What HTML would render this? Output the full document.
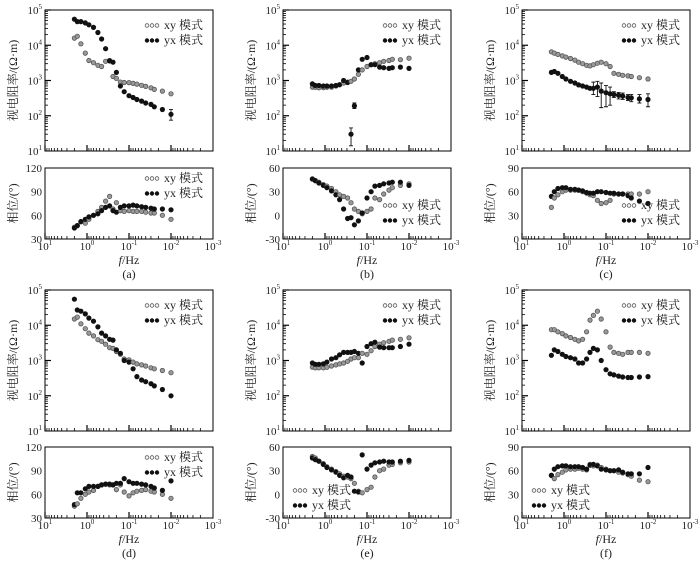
<!DOCTYPE html>
<html><head><meta charset="utf-8">
<style>
html,body{margin:0;padding:0;background:#fff;}
svg{display:block;font-family:"Liberation Serif","Noto Serif CJK SC",serif;}
</style></head>
<body>
<svg id="fig" width="700" height="561" viewBox="0 0 700 561" xmlns="http://www.w3.org/2000/svg"></svg>
<script>
const freqs=[2,1.7,1.4,1.1,0.9,0.7,0.55,0.45,0.36,0.29,0.24,0.2,0.16,0.13,0.1,0.08,0.065,0.05,0.04,0.03,0.025,0.016,0.01];
const aRhoXY=[1.6e4,1.8e4,1.1e4,6e3,3.7e3,3.2e3,2.7e3,2.5e3,3.5e3,3.7e3,1.3e3,1.15e3,900,880,870,830,790,730,680,620,560,500,420];
const aRhoYX=[5.5e4,4.7e4,4.7e4,4.3e4,3.8e4,3.2e4,2.3e4,1.5e4,8e3,3.6e3,3.3e3,1.7e3,700,480,370,330,290,260,230,210,180,150,110];
const aPhXY=[45,47,52,50,55,60,65,70,78,84,68,76,66,65,66,65,65,65,64,63,63,60,55];
const aPhYX=[44,47,52,55,58,60,62,66,70,72,66,64,70,72,72,73,72,71,70,69,68,68,67];
const bRhoXY=[650,640,620,630,640,650,700,760,850,900,950,1100,1500,2000,2500,2800,3000,3200,3500,3700,4000,3900,4300];
const bRhoYX=[800,720,720,700,700,700,720,760,1000,880,30,190,2000,4000,4500,2800,2800,2400,2300,2200,2300,2400,2200];
const bPhXY=[46,44,42,39,37,34,30,26,24,22,16,8,5,2,5,8,22,20,27,32,35,38,40];
const bPhYX=[46,44,41,38,35,31,26,20,8,-4,-3,-12,-7,3,22,30,37,38,40,41,42,42,38];
const cRhoXY=[6.5e3,6e3,5.5e3,5e3,4.6e3,4.2e3,3.8e3,3.3e3,3e3,2.7e3,2.6e3,2.8e3,3.1e3,3.3e3,3e3,2.5e3,1.6e3,1.5e3,1.4e3,1.35e3,1.3e3,1.2e3,1.1e3];
const cRhoYX=[1.7e3,1.8e3,1.6e3,1.3e3,1.1e3,950,850,750,700,650,600,600,650,500,450,420,400,380,360,330,320,300,290];
const cPhXY=[40,52,56,60,62,62,62,62,60,58,56,55,49,45,46,49,57,57,57,57,57,57,60];
const cPhYX=[54,60,64,65,65,63,63,62,61,59,58,58,60,60,59,58,58,57,57,55,52,48,45];
const dRhoXY=[1.5e4,1.7e4,1.1e4,8e3,6e3,5e3,3.9e3,3.5e3,2.9e3,2.3e3,2.2e3,1.8e3,1.5e3,1.1e3,1.05e3,900,800,750,700,620,580,520,450];
const dRhoYX=[5.5e4,2.7e4,2.5e4,2.1e4,1.6e4,1.3e4,9e3,6e3,5e3,4e3,3.8e3,2e3,1.6e3,1e3,900,580,350,280,250,220,190,150,100];
const dPhXY=[45,48,55,60,63,65,70,72,73,72,72,66,72,63,58,62,64,65,66,64,63,60,55];
const dPhYX=[47,62,62,67,70,70,70,72,73,73,72,74,74,80,76,74,74,73,72,70,68,65,77];
const eRhoXY=[650,620,620,620,640,700,750,800,850,950,1100,1200,1200,1600,1500,1900,2500,2900,3200,3500,3800,4000,4400];
const eRhoYX=[850,780,780,800,900,1100,1200,1450,1700,1700,1700,1800,1600,850,2500,3000,3300,2400,2300,2300,2300,2500,2900];
const ePhXY=[48,46,42,39,35,32,29,26,23,22,20,14,4,2,6,9,22,30,32,37,38,40,41];
const ePhYX=[46,44,42,38,34,31,28,24,21,24,22,4,3,50,32,37,40,41,42,41,41,42,43];
const fRhoXY=[7.5e3,7.5e3,6.5e3,5.8e3,5e3,4.5e3,4e3,3.6e3,4e3,6.5e3,1.4e4,1.9e4,2.5e4,1.5e4,6.5e3,2.4e3,1.7e3,1.6e3,1.5e3,1.7e3,1.7e3,1.7e3,1.6e3];
const fRhoYX=[1.4e3,2e3,1.8e3,1.5e3,1.3e3,1.2e3,1.1e3,850,850,1.1e3,1.7e3,2.2e3,2e3,1e3,550,420,390,360,340,330,330,340,350];
const fPhXY=[54,50,55,58,61,62,62,63,62,61,68,66,67,64,62,60,60,58,57,55,53,48,46];
const fPhYX=[54,62,65,66,66,65,65,65,64,62,67,68,66,62,61,60,60,61,58,56,56,56,64];
const xTickExp=["1","0","-1","-2","-3"];
const rhoTickExp=["5","4","3","2","1"];
const phTicksA=[120,90,60,30];
const phTicksB=[60,30,0,-30];
const phTicksC=[90,60,30,0];
const aErr=[[22,75,150]];
const bErr=[[10,14,45],[11,160,230]];
const cErr=[[11,400,900],[12,350,950],[13,170,850],[14,180,720],[15,200,650],[16,330,480],[17,300,460],[18,290,440],[19,270,400],[20,250,400],[21,230,400],[22,180,420]];

const NS="http://www.w3.org/2000/svg";
const svg=document.getElementById('fig');
function mk(tag,attrs,parent){const e=document.createElementNS(NS,tag);for(const k in attrs)e.setAttribute(k,attrs[k]);(parent||svg).appendChild(e);return e;}

const panels=[
 {id:'a',rxy:aRhoXY,ryx:aRhoYX,pxy:aPhXY,pyx:aPhYX,ticks:phTicksA,err:aErr,x0:45,top:10,ptop:168,leg:'tr'},
 {id:'b',rxy:bRhoXY,ryx:bRhoYX,pxy:bPhXY,pyx:bPhYX,ticks:phTicksB,err:bErr,x0:283,top:10,ptop:168,leg:'br'},
 {id:'c',rxy:cRhoXY,ryx:cRhoYX,pxy:cPhXY,pyx:cPhYX,ticks:phTicksC,err:cErr,x0:522,top:10,ptop:168,leg:'br'},
 {id:'d',rxy:dRhoXY,ryx:dRhoYX,pxy:dPhXY,pyx:dPhYX,ticks:phTicksA,err:[],x0:45,top:290,ptop:447,leg:'tr'},
 {id:'e',rxy:eRhoXY,ryx:eRhoYX,pxy:ePhXY,pyx:ePhYX,ticks:phTicksB,err:[],x0:283,top:290,ptop:447,leg:'bl'},
 {id:'f',rxy:fRhoXY,ryx:fRhoYX,pxy:fPhXY,pyx:fPhYX,ticks:phTicksC,err:[],x0:522,top:290,ptop:447,leg:'bl'}
];
const DEC=42,W=168,RH=141,PH=71;

function drawMarker(g,x,y,open){
  const c=mk('circle',{cx:x.toFixed(1),cy:y.toFixed(1),r:2.2,fill:open?'#999':'#111',stroke:open?'#555':'#111','stroke-width':0.8},g);
  
  
}
function xTicks(g,x0,yb){
  for(let d=0;d<4;d++){
    const base=x0+d*DEC;
    const t=mk('line',{x1:base,x2:base,y1:yb,y2:yb-6,stroke:'#000','stroke-width':1.2},g);
    
    
    for(let m=2;m<10;m++){
      const xx=base+DEC*(1-Math.log10(m));
      const mt=mk('line',{x1:xx,x2:xx,y1:yb,y2:yb-3,stroke:'#000','stroke-width':0.8},g);
      
      
    }
  }
}
function legend(g,x,y){
  const items=[['xy 模式',true],['yx 模式',false]];
  items.forEach((it,i)=>{
    const lg=mk('g',{},g);
    
    
    for(let k=0;k<3;k++){
      const c=mk('circle',{cx:x+k*5,cy:y+i*15-3.5,r:1.8,fill:it[1]?'#fff':'#111',stroke:it[1]?'#555':'#111','stroke-width':0.8},lg);
      
      
    }
    const t=mk('text',{x:x+17,y:y+i*15,'font-size':12,fill:'#222'},lg);
    t.textContent=it[0];
    
    
  });
}
panels.forEach(p=>{
  const g=mk('g',{});
  
  
  const xs=f=>p.x0+(1-Math.log10(f))*DEC;
  const ry=v=>p.top+(5-Math.log10(v))*RH/4;
  const pmax=p.ticks[0],pmin=p.ticks[3];
  const py=v=>p.ptop+(pmax-v)/(pmax-pmin)*PH;
  const f1=mk('rect',{x:p.x0,y:p.top,width:W,height:RH,fill:'none',stroke:'#000','stroke-width':1},g);
  
  
  const f2=mk('rect',{x:p.x0,y:p.ptop,width:W,height:PH,fill:'none',stroke:'#000','stroke-width':1},g);
  
  
  for(let k=0;k<5;k++){
    const yy=p.top+k*RH/4;
    const tl=mk('text',{x:p.x0-3,y:yy+4,'font-size':11,'text-anchor':'end',fill:'#222'},g);
    tl.innerHTML='10<tspan dy="-5" font-size="7">'+rhoTickExp[k]+'</tspan>';
    
    
    if(k<4){
      const t=mk('line',{x1:p.x0,x2:p.x0+6,y1:yy,y2:yy,stroke:'#000','stroke-width':1.2},g);
      
      
      for(let m=2;m<10;m++){
        const y2=yy+RH/4*(1-Math.log10(m));
        const mt=mk('line',{x1:p.x0,x2:p.x0+3,y1:y2,y2:y2,stroke:'#000','stroke-width':0.8},g);
        
        
      }
    }
  }
  xTicks(g,p.x0,p.top+RH);
  xTicks(g,p.x0,p.ptop+PH);
  p.ticks.forEach(v=>{
    const tl=mk('text',{x:p.x0-3,y:py(v)+4,'font-size':11,'text-anchor':'end',fill:'#222'},g);
    tl.textContent=v;
    
    
  });
  xTickExp.forEach((e,i)=>{
    const tl=mk('text',{x:p.x0+i*DEC,y:p.ptop+PH+11,'font-size':11,'text-anchor':'middle',fill:'#222'},g);
    tl.innerHTML='10<tspan dy="-5" font-size="7">'+e+'</tspan>';
    
    
  });
  const xt=mk('text',{x:p.x0+W/2,y:p.ptop+PH+25,'font-size':12,'text-anchor':'middle',fill:'#222'},g);
  xt.innerHTML='<tspan font-style="italic">f</tspan>/Hz';
  
  
  const cap=mk('text',{x:p.x0+W/2,y:p.ptop+PH+39,'font-size':12,'text-anchor':'middle',fill:'#222'},g);
  cap.textContent='('+p.id+')';
  
  
  const yt1=mk('text',{x:0,y:0,'font-size':12,'text-anchor':'middle',fill:'#222',transform:'translate('+(p.x0-28)+','+(p.top+RH/2)+') rotate(-90)'},g);
  yt1.textContent='视电阻率/(Ω·m)';
  
  
  const yt2=mk('text',{x:0,y:0,'font-size':12,'text-anchor':'middle',fill:'#222',transform:'translate('+(p.x0-28)+','+(p.ptop+PH/2)+') rotate(-90)'},g);
  yt2.textContent='相位/(°)';
  
  
  p.err.forEach(e=>{
    const x=xs(freqs[e[0]]);
    const l=mk('path',{d:`M${x},${ry(e[1])}V${ry(e[2])}M${x-2},${ry(e[1])}h4M${x-2},${ry(e[2])}h4`,stroke:'#111','stroke-width':0.9,fill:'none'},g);
    
    
  });
  freqs.forEach((f,i)=>{drawMarker(g,xs(f),ry(p.rxy[i]),true);drawMarker(g,xs(f),ry(p.ryx[i]),false);});
  freqs.forEach((f,i)=>{drawMarker(g,xs(f),py(p.pxy[i]),true);drawMarker(g,xs(f),py(p.pyx[i]),false);});
  legend(g,p.x0+102,p.top+19);
  if(p.leg==='tr')legend(g,p.x0+102,p.ptop+14);
  else if(p.leg==='br')legend(g,p.x0+102,p.ptop+41);
  else legend(g,p.x0+12,p.ptop+47);
});
</script>
</body></html>
